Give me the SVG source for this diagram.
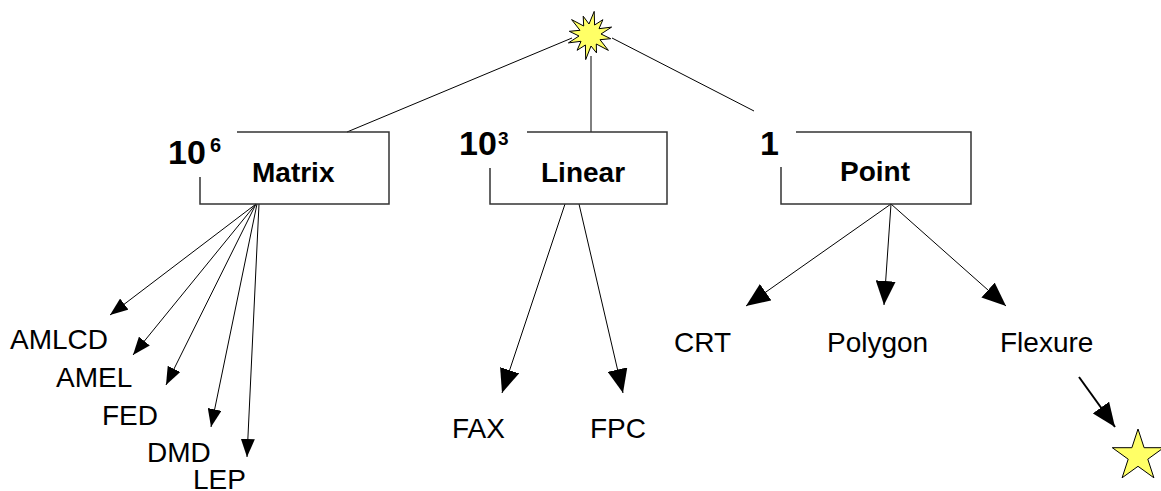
<svg xmlns="http://www.w3.org/2000/svg" width="1161" height="491" viewBox="0 0 1161 491">
<style>
.box{fill:none;stroke:#333;stroke-width:1.5}
.con{fill:none;stroke:#000;stroke-width:1}
.lbl{font-family:"Liberation Sans",Arial,sans-serif;font-size:28px;fill:#000}
.bold{font-family:"Liberation Sans",Arial,sans-serif;font-weight:bold;fill:#000}
.shape{fill:#ffff66;stroke:#000;stroke-width:1}
</style>
<defs>
<marker id="big" markerUnits="userSpaceOnUse" markerWidth="24" markerHeight="20" refX="24" refY="10" orient="auto"><path d="M0,0 L24,10 L0,20 z" fill="#000"/></marker>
<marker id="small" markerUnits="userSpaceOnUse" markerWidth="18" markerHeight="14" refX="18" refY="7" orient="auto"><path d="M0,0 L18,7 L0,14 z" fill="#000"/></marker>
</defs>
<rect width="1161" height="491" fill="#fff"/>
<g id="connectors">
<line class="con" x1="347" y1="132" x2="572" y2="38"/>
<line class="con" x1="591" y1="132" x2="591" y2="56"/>
<line class="con" x1="612" y1="38" x2="754" y2="111"/>
<line class="con" x1="256" y1="204" x2="110" y2="315" marker-end="url(#small)"/>
<line class="con" x1="256" y1="204" x2="133" y2="355" marker-end="url(#small)"/>
<line class="con" x1="256" y1="204" x2="166" y2="385" marker-end="url(#small)"/>
<line class="con" x1="257" y1="204" x2="211" y2="427" marker-end="url(#small)"/>
<line class="con" x1="259" y1="204" x2="247" y2="457" marker-end="url(#small)"/>
<line class="con" x1="565" y1="204" x2="502" y2="393" marker-end="url(#big)"/>
<line class="con" x1="579" y1="204" x2="623" y2="393" marker-end="url(#big)"/>
<line class="con" x1="891" y1="204" x2="746" y2="306" marker-end="url(#big)"/>
<line class="con" x1="891" y1="204" x2="884" y2="305" marker-end="url(#big)"/>
<line class="con" x1="891" y1="204" x2="1006" y2="306" marker-end="url(#big)"/>
<line class="con" style="stroke-width:2" x1="1079" y1="377" x2="1115" y2="427" marker-end="url(#big)"/>
</g>
<g id="burst">
<polygon class="shape" points="594.2,11.4 594.6,25 602.9,19.7 599,28.7 611.6,27.1 601,34 610.7,38.7 600,39.7 608.4,50.4 596.3,44 596.5,52.9 591,46 585.7,59.6 585.4,45 577.1,50.3 581,41.3 568.4,42.9 579,36 569.3,31.3 580,30.3 571.6,19.6 583.7,26 583.2,16.2 589,24"/>
</g>
<g id="matrix">
<path class="box" d="M237,132 H389 V204 H200 V177"/>
<text class="bold" x="168" y="164" font-size="34">10</text>
<text class="bold" x="210" y="152" font-size="20">6</text>
<text class="bold" x="252" y="182" font-size="28">Matrix</text>
</g>
<g id="linear">
<path class="box" d="M527,132 H667 V204 H490 V168"/>
<text class="bold" x="459" y="155" font-size="34">10</text>
<text class="bold" x="498" y="145" font-size="19">3</text>
<text class="bold" x="541" y="182" font-size="28">Linear</text>
</g>
<g id="point">
<path class="box" d="M796,132 H971 V204 H781 V167"/>
<text class="bold" x="760" y="155" font-size="34">1</text>
<text class="bold" x="840" y="181" font-size="28">Point</text>
</g>
<g id="AMLCD"><text class="lbl" x="10" y="349">AMLCD</text></g>
<g id="AMEL"><text class="lbl" x="56" y="387">AMEL</text></g>
<g id="FED"><text class="lbl" x="102" y="425">FED</text></g>
<g id="DMD"><text class="lbl" x="147" y="462">DMD</text></g>
<g id="LEP"><text class="lbl" x="193" y="489">LEP</text></g>
<g id="FAX"><text class="lbl" x="452" y="438">FAX</text></g>
<g id="FPC"><text class="lbl" x="590" y="438">FPC</text></g>
<g id="CRT"><text class="lbl" x="674" y="352">CRT</text></g>
<g id="Polygon"><text class="lbl" x="827" y="352">Polygon</text></g>
<g id="Flexure"><text class="lbl" x="1000" y="352">Flexure</text></g>
<g id="star">
<polygon class="shape" points="1138,429 1144.1,447.7 1163.7,447.7 1147.8,459.2 1153.9,477.8 1138,466.3 1122.1,477.8 1128.2,459.2 1112.3,447.7 1131.9,447.7"/>
</g>
</svg>
